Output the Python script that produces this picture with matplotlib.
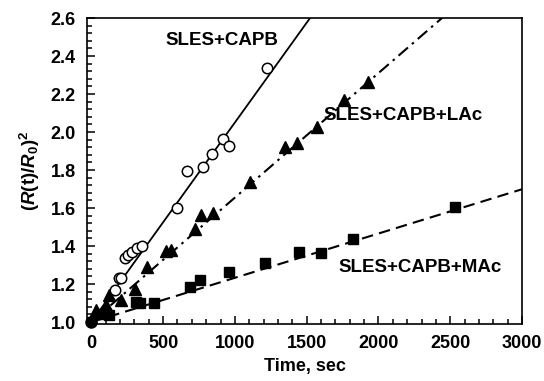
import matplotlib
matplotlib.use("Agg")
import matplotlib.pyplot as plt
import numpy as np
from matplotlib.ticker import MultipleLocator

plt.rcParams['font.family'] = ['Liberation Sans', 'DejaVu Sans']
plt.rcParams['font.weight'] = 'bold'
plt.rcParams['mathtext.fontset'] = 'custom'
plt.rcParams['mathtext.rm'] = 'Liberation Sans:bold'
plt.rcParams['mathtext.it'] = 'Liberation Sans:italic:bold'
plt.rcParams['mathtext.bf'] = 'Liberation Sans:bold'

# SLES+CAPB (open circles)
capb_t = [0, 165, 193, 204, 232, 258, 286, 321, 356, 600, 665, 777, 839, 916, 958, 1223]
capb_r = [1.0, 1.168, 1.23, 1.23, 1.335, 1.353, 1.37, 1.388, 1.40, 1.598, 1.795, 1.816, 1.884, 1.963, 1.926, 2.337]
capb_slope = 1.05e-3

# SLES+CAPB+LAc (filled triangles)
lac_t = [0, 30, 100, 123, 204, 304, 391, 518, 553, 721, 763, 848, 1104, 1349, 1430, 1572, 1762, 1930]
lac_r = [1.0, 1.063, 1.09, 1.142, 1.116, 1.174, 1.29, 1.374, 1.38, 1.49, 1.563, 1.576, 1.738, 1.92, 1.94, 2.026, 2.17, 2.265]
lac_slope = 6.55e-4

# SLES+CAPB+MAc (filled squares)
mac_t = [0, 77, 123, 309, 337, 437, 686, 760, 958, 1209, 1446, 1598, 1825, 2530]
mac_r = [1.0, 1.04, 1.037, 1.107, 1.098, 1.10, 1.186, 1.22, 1.265, 1.312, 1.367, 1.366, 1.435, 1.604]
mac_slope = 2.33e-4

labels = ["SLES+CAPB", "SLES+CAPB+LAc", "SLES+CAPB+MAc"]

fig = plt.figure(figsize=(5.44, 3.81), dpi=100)
ax = fig.add_axes([87/544, 1-324/381, (522-87)/544, (324-18)/381])

ymax = 2.6
# fit lines
t1 = np.array([0, (ymax-1)/capb_slope])
ax.plot(t1, 1 + capb_slope*t1, color='black', lw=1.3, ls='-')
t2 = np.array([0, (ymax-1)/lac_slope])
ax.plot(t2, 1 + lac_slope*t2, color='black', lw=1.5, ls=(0, (6, 2.5, 1.2, 2.5)))
t3 = np.array([0, 3000])
ax.plot(t3, 1 + mac_slope*t3, color='black', lw=1.5, ls=(0, (5.5, 3)))

ax.plot(mac_t, mac_r, ls='none', marker='s', ms=7, mfc='black', mec='black')
ax.plot(lac_t, lac_r, ls='none', marker='^', ms=8, mfc='black', mec='black')
ax.plot(capb_t, capb_r, ls='none', marker='o', ms=7.5, mfc='white', mec='black', mew=1.1)
ax.plot([0], [1.0], ls='none', marker='o', ms=8, mfc='black', mec='black', clip_on=False)

ax.text(909, 2.484, labels[0], ha='center', va='center', fontsize=13.5, fontweight='bold')
ax.text(2173, 2.089, labels[1], ha='center', va='center', fontsize=13.5, fontweight='bold')
ax.text(2292, 1.288, labels[2], ha='center', va='center', fontsize=13.5, fontweight='bold')

ax.set_xlim(-30, 3000)
ax.set_ylim(0.99, 2.6)
ax.xaxis.set_major_locator(MultipleLocator(500))
ax.xaxis.set_minor_locator(MultipleLocator(100))
ax.yaxis.set_major_locator(MultipleLocator(0.2))
ax.yaxis.set_minor_locator(MultipleLocator(0.04))
ax.yaxis.set_major_formatter(matplotlib.ticker.FormatStrFormatter('%.1f'))
ax.tick_params(which='both', direction='in', top=False, right=False, labelsize=13, width=1.1)
ax.tick_params(which='major', length=6)
ax.tick_params(axis='x', which='major', pad=8)
ax.tick_params(axis='y', which='major', pad=8)
ax.tick_params(which='minor', length=3.5)
for s in ax.spines.values():
    s.set_linewidth(1.2)
for lab in ax.get_xticklabels() + ax.get_yticklabels():
    lab.set_fontweight('bold')

ax.set_xlabel('Time, sec', fontsize=13, fontweight='bold', labelpad=4)
ax.set_ylabel(r'$(R\mathrm{(t)}/R_{\mathrm{0}}\mathrm{)}^{\mathrm{2}}$', fontsize=13.5, labelpad=6)

fig.savefig('out.png', dpi=100)
